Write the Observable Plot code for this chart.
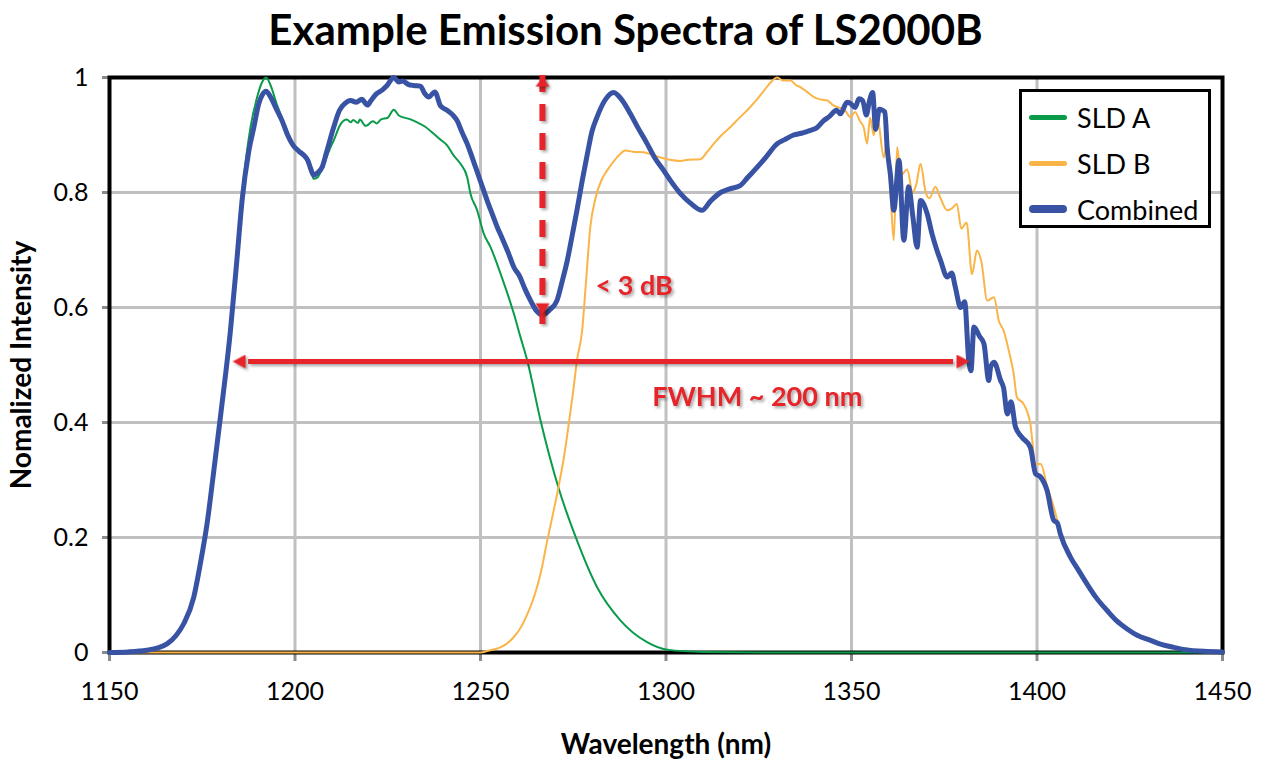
<!DOCTYPE html>
<html>
<head>
<meta charset="utf-8">
<script src="https://cdn.jsdelivr.net/npm/d3@7"></script>
<script src="https://cdn.jsdelivr.net/npm/@observablehq/plot@0.6"></script>
<style>
  body { margin: 0; background: #fff; font-family: Lato, "Open Sans", sans-serif; }
  #wrap { position: relative; width: 1263px; height: 760px; overflow: hidden; }
  #title { height: 58px; line-height: 58px; text-align: center; font-weight: 700; font-size: 42px; padding-right: 12px; color: #000; }
  #legend { position: absolute; left: 1019px; top: 89px; width: 186px; height: 133px; border: 3px solid #000; background: #fff; }
  .item { position: absolute; left: 7px; height: 30px; display: flex; align-items: center; font-size: 27px; color: #000; white-space: nowrap; }
  .sw { width: 38px; border-radius: 4px; margin-right: 10px; }
  g[stroke="#e62429"], g[fill="#e62429"] { filter: drop-shadow(2px 2px 1.5px rgba(0,0,0,0.35)); }
</style>
</head>
<body>
<div id="wrap">
  <div id="title"></div>
  <div id="chart"></div>
  <div id="legend"></div>
</div>
<script>
// ---------- Data ----------
const titleText = "Example Emission Spectra of LS2000B";
const xLabel = "Wavelength (nm)";
const yLabel = "Nomalized Intensity";
const xTicks = [1150, 1200, 1250, 1300, 1350, 1400, 1450];
const yTicks = [0, 0.2, 0.4, 0.6, 0.8, 1];
const seriesNames = ["SLD A", "SLD B", "Combined"];
const seriesColors = ["#0a9b4a", "#fbb447", "#3953a4"];

// [wavelength nm, normalized intensity]
const sldA = [
  [1150,0],[1155,0.001],[1160,0.004],[1163,0.008],[1165.5,0.015],[1168,0.03],[1170,0.05],[1172.7,0.096],
  [1174.5,0.155],[1176.3,0.224],[1178,0.31],[1180,0.415],[1182.6,0.56],[1184.3,0.68],[1185.8,0.8],[1188,0.913],
  [1189.8,0.966],[1191,0.99],[1192.2,1.0],[1193.5,0.985],[1195,0.955],[1196.5,0.93],[1198,0.905],[1199.5,0.885],
  [1201,0.872],[1202.5,0.865],[1203.5,0.855],[1204.3,0.84],[1205,0.824],[1206,0.826],[1207.8,0.85],[1209.6,0.879],
  [1210.4,0.89],[1212.3,0.919],[1214,0.927],[1215,0.922],[1215.7,0.926],[1217,0.921],[1217.5,0.927],[1219,0.916],
  [1219.5,0.917],[1221,0.924],[1222,0.92],[1223.2,0.927],[1225,0.93],[1226.6,0.944],[1228,0.934],[1229,0.931],
  [1230.8,0.928],[1232.9,0.922],[1235.2,0.914],[1237.4,0.902],[1239,0.893],[1241,0.882],[1242.8,0.864],
  [1244.6,0.85],[1246.4,0.827],[1247.3,0.798],[1249.1,0.769],[1250.9,0.728],[1252.7,0.705],[1255.4,0.659],
  [1259,0.589],[1260.8,0.548],[1262.6,0.508],[1266.2,0.403],[1271,0.287],[1276,0.195],[1281.4,0.114],
  [1287.7,0.056],[1294.9,0.018],[1300.3,0.005],[1310,0.001],[1330,0],[1450,0]
];

const sldB = [
  [1150,0],[1250,0],[1252,0.003],[1255,0.008],[1257,0.015],[1259,0.027],[1261,0.045],[1262.5,0.065],
  [1264.4,0.096],[1266.3,0.14],[1268,0.195],[1269.5,0.24],[1271,0.287],[1272.5,0.34],[1273.8,0.398],[1275,0.455],
  [1276,0.508],[1277.4,0.56],[1278.5,0.65],[1279.6,0.74],[1281,0.79],[1282.5,0.82],[1284.1,0.838],[1286,0.855],
  [1287.5,0.866],[1289,0.873],[1291,0.871],[1294,0.87],[1296,0.866],[1298.5,0.861],[1301,0.857],[1303.9,0.855],
  [1306,0.857],[1309.3,0.858],[1311,0.87],[1312.9,0.885],[1315,0.9],[1317.4,0.914],[1319.5,0.928],[1321.9,0.943],
  [1324,0.958],[1326.4,0.977],[1328,0.99],[1330,1.0],[1331.5,0.995],[1333.6,0.995],[1335,0.987],[1336.3,0.983],
  [1338,0.975],[1339.9,0.966],[1341.5,0.962],[1343.5,0.96],[1345,0.952],[1346.5,0.948],[1348,0.945],[1349.7,0.931],
  [1351,0.94],[1352.2,0.925],[1353.3,0.913],[1354.2,0.885],[1355,0.93],[1356,0.9],[1357,0.93],[1358.7,0.861],
  [1359.5,0.89],[1360.5,0.8],[1361.4,0.717],[1362.3,0.879],[1363.3,0.83],[1365,0.84],[1366.5,0.8],[1367.5,0.815],
  [1368.6,0.85],[1370,0.8],[1371,0.79],[1372.6,0.81],[1374,0.79],[1375.8,0.769],[1377,0.772],[1378.4,0.78],
  [1379.6,0.737],[1381,0.748],[1382.5,0.658],[1383.8,0.699],[1385,0.68],[1386.6,0.612],[1388.4,0.618],
  [1389.7,0.577],[1391,0.56],[1392.4,0.525],[1393.7,0.485],[1394.6,0.444],[1396.4,0.432],[1398.2,0.398],
  [1399.6,0.328],[1401,0.328],[1402.7,0.29],[1404.5,0.253],[1406.3,0.21],[1409,0.166],[1411,0.145],[1413.5,0.119],
  [1416,0.095],[1418.9,0.073],[1421.5,0.055],[1424.3,0.041],[1427,0.03],[1430.6,0.021],[1433.5,0.014],
  [1436.8,0.009],[1440,0.005],[1445,0.002],[1450,0.001]
];

const combined = [
  [1150,0],[1155,0.001],[1160,0.004],[1163,0.008],[1165.5,0.015],[1168,0.03],[1170,0.05],[1172.7,0.096],
  [1174.5,0.155],[1176.3,0.224],[1178,0.31],[1180,0.415],[1182.6,0.56],[1184.3,0.68],[1185.8,0.79],[1187.5,0.87],
  [1188.9,0.913],[1190.2,0.954],[1191.2,0.97],[1192.2,0.976],[1193.5,0.965],[1195,0.945],[1196.5,0.925],[1198,0.9],
  [1199.5,0.882],[1201,0.872],[1202.5,0.864],[1203.5,0.855],[1204.3,0.84],[1205,0.83],[1206,0.834],[1207.3,0.844],
  [1208.5,0.87],[1210.4,0.913],[1212,0.943],[1213.5,0.955],[1215,0.96],[1216.5,0.957],[1218,0.962],[1219.5,0.952],
  [1220.5,0.96],[1222,0.972],[1223.5,0.978],[1224.8,0.986],[1226.6,1.0],[1228,0.992],[1229,0.994],[1230.5,0.988],
  [1232,0.986],[1233.8,0.985],[1235,0.972],[1236,0.966],[1237.7,0.975],[1239.2,0.951],[1241,0.943],[1242.5,0.935],
  [1243.7,0.925],[1245,0.905],[1246.4,0.885],[1247.7,0.862],[1249,0.838],[1250.5,0.81],[1251.8,0.786],
  [1253.2,0.762],[1254.5,0.74],[1256,0.718],[1257.5,0.695],[1259,0.67],[1260.5,0.655],[1262,0.632],[1263.5,0.612],
  [1265,0.595],[1266.8,0.587],[1268.5,0.595],[1270.6,0.612],[1272,0.645],[1273.4,0.682],[1274.7,0.725],[1276,0.769],
  [1277.4,0.82],[1278.8,0.867],[1280,0.905],[1281.4,0.931],[1283.5,0.96],[1285.9,0.974],[1288,0.962],[1290.4,0.937],
  [1292.5,0.912],[1294.9,0.885],[1297,0.86],[1299.4,0.838],[1301.5,0.818],[1303.9,0.798],[1306.5,0.782],
  [1309.7,0.769],[1312,0.785],[1314.7,0.8],[1317,0.806],[1320,0.812],[1322,0.826],[1324.6,0.844],[1327,0.862],
  [1330,0.885],[1332,0.892],[1334.4,0.9],[1336.5,0.903],[1338,0.906],[1339,0.908],[1340.5,0.912],[1342.5,0.925],
  [1344,0.932],[1346,0.943],[1347,0.937],[1348.8,0.957],[1349.7,0.955],[1351,0.948],[1352,0.963],[1353,0.96],
  [1354,0.935],[1354.8,0.958],[1355.7,0.974],[1356.5,0.91],[1357.5,0.945],[1359,0.94],[1359.6,0.879],[1360.5,0.83],
  [1361.4,0.769],[1362.8,0.856],[1364.1,0.717],[1365.4,0.81],[1366.5,0.76],[1367.7,0.705],[1368.6,0.786],
  [1370.4,0.763],[1371.7,0.728],[1373,0.7],[1374,0.682],[1375.8,0.653],[1377,0.66],[1378,0.635],[1379.4,0.6],
  [1380.5,0.61],[1381.6,0.508],[1382.2,0.49],[1383,0.566],[1384.5,0.55],[1385.7,0.537],[1387,0.473],[1387.5,0.496],
  [1388.4,0.505],[1390.2,0.473],[1391,0.46],[1392,0.415],[1393,0.436],[1394.2,0.392],[1396,0.374],[1398.2,0.357],
  [1399.6,0.311],[1401,0.305],[1402.7,0.282],[1404.5,0.23],[1405.5,0.225],[1406.3,0.206],[1409,0.166],[1411,0.145],
  [1413.5,0.119],[1416,0.095],[1418.9,0.073],[1421.5,0.055],[1424.3,0.041],[1427,0.03],[1430.6,0.021],
  [1433.5,0.014],[1436.8,0.009],[1440,0.005],[1445,0.002],[1450,0.001]
];

// Annotations (data coordinates)
const dipArrow = [{x: 1266.7, y1: 0.588, y2: 1.0}];
const fwhmArrow = [{y: 0.506, x1: 1183.2, x2: 1381.8}];
const arrowHeads = [
  {x: 1183.2, y: 0.506, rot: -90, len: 20},
  {x: 1381.8, y: 0.506, rot: 90, len: 20},
  {x: 1266.7, y: 1.0, rot: 0, len: 14},
  {x: 1266.7, y: 0.588, rot: 180, len: 17}
];
const annotations = [
  {x: 1281.0, y: 0.637, text: "< 3 dB", anchor: "start", size: 27},
  {x: 1324.6, y: 0.443, text: "FWHM ~ 200 nm", anchor: "middle", size: 27}
];
const red = "#e62429";

// ---------- Build ----------
document.getElementById("title").textContent = titleText;
const toRows = (arr) => arr.map(([nm, v]) => ({nm, v}));
const series = [sldA, sldB, combined].map(toRows);
const widths = [2, 2, 5];

const chart = Plot.plot({
  width: 1263,
  height: 700,
  marginLeft: 109,
  marginRight: 41,
  marginTop: 19,
  marginBottom: 106,
  style: {fontFamily: "Lato, 'Open Sans', sans-serif", fontSize: "25px", color: "#000", background: "transparent", overflow: "visible"},
  x: {domain: [1150, 1450]},
  y: {domain: [0, 1]},
  marks: [
    Plot.gridX(xTicks, {stroke: "#c0c0c0", strokeOpacity: 1, strokeWidth: 3}),
    Plot.gridY(yTicks, {stroke: "#c0c0c0", strokeOpacity: 1, strokeWidth: 3}),
    Plot.axisX(xTicks, {tickSize: 9, tickPadding: 21, stroke: "#8a8a8a", strokeWidth: 3, fill: "#000", label: null, fontSize: 25, tickFormat: (d) => String(d)}),
    Plot.axisY(yTicks, {tickSize: 7, tickPadding: 14, stroke: "#8a8a8a", strokeWidth: 3, fill: "#000", label: null, fontSize: 25, tickFormat: (d) => String(d)}),
    Plot.frame({stroke: "#000", strokeWidth: 4}),
    ...series.map((rows, i) => Plot.line(rows, {
      x: "nm", y: "v", stroke: seriesColors[i], strokeWidth: widths[i],
      curve: "monotone-x", strokeLinejoin: "round", strokeLinecap: "round"
    })),
    Plot.ruleX(dipArrow, {x: "x", y1: "y1", y2: "y2", stroke: red, strokeWidth: 6, strokeDasharray: "17,12", insetTop: 10, insetBottom: 14}),
    Plot.ruleY(fwhmArrow, {y: "y", x1: "x1", x2: "x2", stroke: red, strokeWidth: 5, insetLeft: 16, insetRight: 16}),
    Plot.vector(arrowHeads, {x: "x", y: "y", rotate: "rot", length: "len", shape: "spike", r: 7, anchor: "end", fill: red, stroke: "none"}),
    ...annotations.map((a) => Plot.text([a], {x: "x", y: "y", text: "text", textAnchor: a.anchor, fill: red, fontWeight: "bold", fontSize: a.size})),
    Plot.text([xLabel], {text: (d) => d, frameAnchor: "bottom", lineAnchor: "middle", textAnchor: "middle", dy: 93, fontWeight: "bold", fontSize: 28, fill: "#000"}),
    Plot.text([yLabel], {text: (d) => d, frameAnchor: "left", lineAnchor: "middle", textAnchor: "middle", dx: -87, rotate: -90, fontWeight: "bold", fontSize: 28, fill: "#000"})
  ]
});
document.getElementById("chart").appendChild(chart);

// Legend (HTML overlay inside the plot area, as in the reference)
const legend = document.getElementById("legend");
const legendCenters = [25, 71, 117];
const swatchHeights = [5, 5, 8];
seriesNames.forEach((name, i) => {
  const item = document.createElement("div");
  item.className = "item";
  item.style.top = (legendCenters[i] - 15) + "px";
  const sw = document.createElement("div");
  sw.className = "sw";
  sw.style.background = seriesColors[i];
  sw.style.height = swatchHeights[i] + "px";
  const label = document.createElement("span");
  label.textContent = name;
  item.appendChild(sw);
  item.appendChild(label);
  legend.appendChild(item);
});
</script>
</body>
</html>
